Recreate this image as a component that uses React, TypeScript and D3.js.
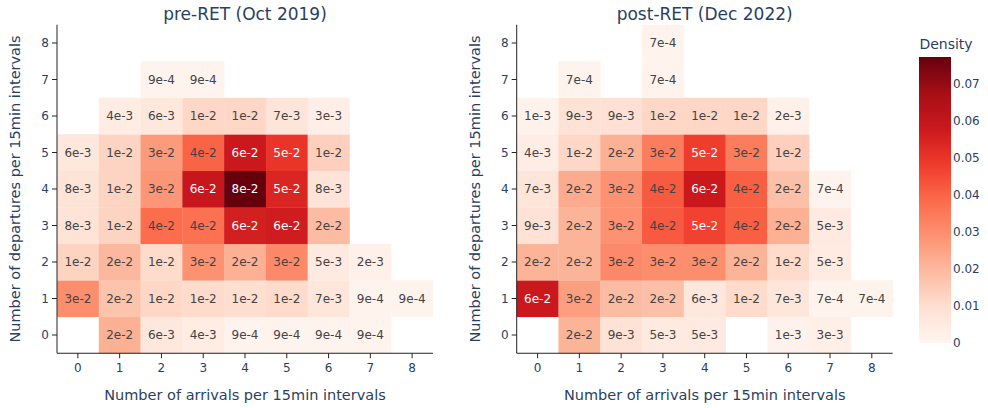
import React from "react";
import * as d3 from "d3";

// Arrival / departure counts per 15-minute interval (cell positions)
const arrivals = [0, 1, 2, 3, 4, 5, 6, 7, 8];
const departures = [0, 1, 2, 3, 4, 5, 6, 7, 8];

// Joint density, one row per departure count (0..8), columns = arrival count (0..8)
const preDensity: (number | null)[][] = [
  [null, 0.022, 0.0062, 0.0042, 0.0009, 0.0009, 0.0009, 0.0009, null],
  [0.030, 0.017, 0.012, 0.011, 0.010, 0.011, 0.0070, 0.0009, 0.0009],
  [0.013, 0.020, 0.011, 0.029, 0.022, 0.031, 0.0052, 0.0018, null],
  [0.0083, 0.013, 0.038, 0.037, 0.056, 0.057, 0.019, null, null],
  [0.0080, 0.013, 0.028, 0.059, 0.0773, 0.054, 0.0078, null, null],
  [0.0062, 0.013, 0.027, 0.040, 0.058, 0.050, 0.014, null, null],
  [null, 0.0042, 0.0062, 0.012, 0.012, 0.0072, 0.0030, null, null],
  [null, null, 0.0009, 0.0009, null, null, null, null, null],
  [null, null, null, null, null, null, null, null, null],
];

const postDensity: (number | null)[][] = [
  [null, 0.021, 0.0088, 0.0052, 0.0050, null, 0.0013, 0.0028, null],
  [0.058, 0.026, 0.019, 0.018, 0.0060, 0.011, 0.0068, 0.0007, 0.0007],
  [0.021, 0.021, 0.031, 0.030, 0.030, 0.021, 0.011, 0.0048, null],
  [0.0088, 0.021, 0.029, 0.042, 0.047, 0.041, 0.022, 0.0050, null],
  [0.0072, 0.023, 0.029, 0.042, 0.058, 0.041, 0.018, 0.0007, null],
  [0.0040, 0.012, 0.022, 0.034, 0.048, 0.034, 0.014, null, null],
  [0.0013, 0.0088, 0.0090, 0.012, 0.012, 0.012, 0.0022, null, null],
  [null, 0.0007, null, 0.0007, null, null, null, null, null],
  [null, null, null, 0.0007, null, null, null, null, null],
];

const panelTitles = ["pre-RET (Oct 2019)", "post-RET (Dec 2022)"];
const colorbarTicks = [0, 0.01, 0.02, 0.03, 0.04, 0.05, 0.06, 0.07];

// Reds colour scale stops
const redsStops = [
  "rgb(255,245,240)", "rgb(254,224,210)", "rgb(252,187,161)", "rgb(252,146,114)",
  "rgb(251,106,74)", "rgb(239,59,44)", "rgb(203,24,29)", "rgb(165,15,21)", "rgb(103,0,13)",
];

const W = 988;
const H = 408;
const FONT = "Verdana, 'DejaVu Sans', sans-serif";
const TEXT = "#2a3f5f";
const AXIS = "#242424";

const allValues = [...preDensity.flat(), ...postDensity.flat()].filter(
  (v): v is number => v != null
);
const zMax = d3.max(allValues) as number;

const color = d3
  .scaleLinear<string>()
  .domain(redsStops.map((_, i) => (i / (redsStops.length - 1)) * zMax))
  .range(redsStops)
  .interpolate(d3.interpolateRgb)
  .clamp(true);

const fmt = d3.format(".0e");

function textColor(fill: string) {
  const c = d3.rgb(fill);
  const brightness = (c.r * 299 + c.g * 587 + c.b * 114) / 1000;
  return brightness >= 128 ? "#444" : "#fff";
}

const plotTop = 24.75;
const plotBottom = 353.25;
const plotW = 376;

function Panel({ left, data, title }: { left: number; data: (number | null)[][]; title: string }) {
  const x = d3.scaleLinear().domain([-0.5, 8.5]).range([left, left + plotW]);
  const y = d3.scaleLinear().domain([-0.5, 8.5]).range([plotBottom, plotTop]);
  const cw = x(1) - x(0);
  const ch = y(0) - y(1);
  const cx = (left + left + plotW) / 2;
  const cy = (plotTop + plotBottom) / 2;
  return (
    <g>
      {data.map((row, j) =>
        row.map((v, i) => {
          if (v == null) return null;
          const fill = color(v);
          return (
            <g key={`${i}-${j}`}>
              <rect
                x={x(arrivals[i]) - cw / 2}
                y={y(departures[j]) - ch / 2}
                width={cw + 0.3}
                height={ch + 0.3}
                fill={fill}
              />
              <text
                x={x(arrivals[i])}
                y={y(departures[j])}
                textAnchor="middle"
                dominantBaseline="central"
                fontSize={12}
                fill={textColor(fill)}
              >
                {fmt(v)}
              </text>
            </g>
          );
        })
      )}
      {/* axes */}
      <line x1={left} x2={left} y1={plotTop} y2={plotBottom} stroke={AXIS} strokeWidth={1} />
      <line x1={left} x2={left + plotW} y1={plotBottom} y2={plotBottom} stroke={AXIS} strokeWidth={1} />
      {arrivals.map((a) => (
        <g key={`xt${a}`}>
          <line x1={x(a)} x2={x(a)} y1={plotBottom} y2={plotBottom + 5} stroke={AXIS} />
          <text x={x(a)} y={368} textAnchor="middle" dominantBaseline="central" fontSize={12} fill={TEXT}>
            {a}
          </text>
        </g>
      ))}
      {departures.map((d) => (
        <g key={`yt${d}`}>
          <line x1={left - 5} x2={left} y1={y(d)} y2={y(d)} stroke={AXIS} />
          <text x={left - 8} y={y(d)} textAnchor="end" dominantBaseline="central" fontSize={12} fill={TEXT}>
            {d}
          </text>
        </g>
      ))}
      <text x={cx} y={14} textAnchor="middle" dominantBaseline="central" fontSize={17} fill={TEXT}>
        {title}
      </text>
      <text x={cx} y={395} textAnchor="middle" dominantBaseline="central" fontSize={14.5} fill={TEXT}>
        Number of arrivals per 15min intervals
      </text>
      <text
        transform={`translate(${left - 42},${cy}) rotate(-90)`}
        textAnchor="middle"
        dominantBaseline="central"
        fontSize={14.5}
        fill={TEXT}
      >
        Number of departures per 15min intervals
      </text>
    </g>
  );
}

function Colorbar() {
  const x0 = 919;
  const w = 32;
  const top = 57;
  const bottom = 343;
  const s = d3.scaleLinear().domain([0, zMax]).range([bottom, top]);
  return (
    <g>
      <defs>
        <linearGradient id="redsGrad" x1="0" y1="1" x2="0" y2="0">
          {redsStops.map((c, i) => (
            <stop key={i} offset={`${(i / (redsStops.length - 1)) * 100}%`} stopColor={c} />
          ))}
        </linearGradient>
      </defs>
      <rect x={x0} y={top} width={w} height={bottom - top} fill="url(#redsGrad)" />
      {colorbarTicks.map((t) => (
        <text key={t} x={x0 + w + 2} y={s(t)} dominantBaseline="central" fontSize={12} fill={TEXT}>
          {t}
        </text>
      ))}
      <text x={946} y={44} textAnchor="middle" dominantBaseline="central" fontSize={14} fill={TEXT}>
        Density
      </text>
    </g>
  );
}

export default function App() {
  return (
    <svg
      width={W}
      height={H}
      style={{ position: "absolute", left: 0, top: 0, background: "#fff" }}
      fontFamily={FONT}
    >
      <rect width={W} height={H} fill="#fff" />
      <Panel left={57} data={preDensity} title={panelTitles[0]} />
      <Panel left={516.7} data={postDensity} title={panelTitles[1]} />
      <Colorbar />
    </svg>
  );
}
